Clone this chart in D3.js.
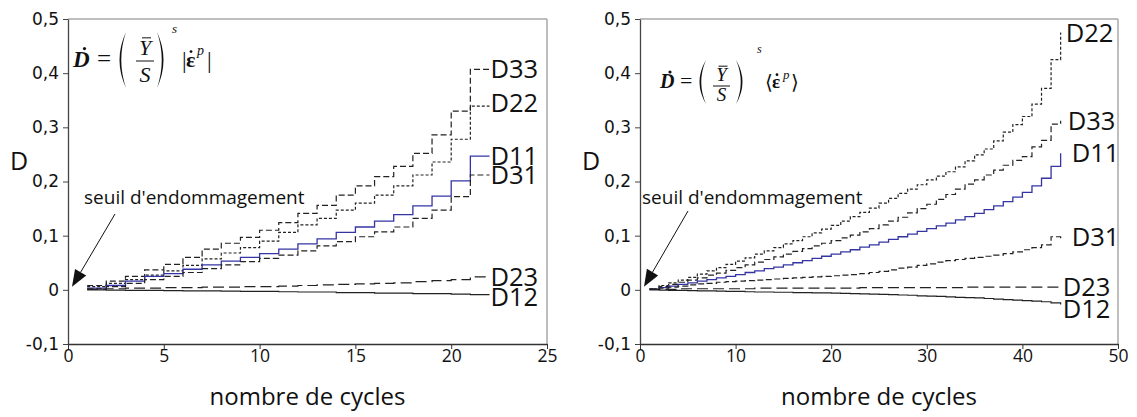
<!DOCTYPE html>
<html><head><meta charset="utf-8">
<script src="https://cdn.jsdelivr.net/npm/d3@7"></script>
<style>body{margin:0;background:#fff}svg{display:block}</style>
</head><body>
<svg id="chart" width="1137" height="417"></svg>
<script>
// ---------- DATA ----------
const yTicks = [-0.1, 0, 0.1, 0.2, 0.3, 0.4, 0.5];
const xTicksLeft = [0, 5, 10, 15, 20, 25];
const xTicksRight = [0, 10, 20, 30, 40, 50];

const cyclesLeft = d3.range(1, 23);   // 1..22
const left_D33 = [0.008,0.016,0.025,0.037,0.047,0.060,0.075,0.086,0.097,0.110,0.124,0.141,0.156,0.175,0.192,0.209,0.228,0.252,0.286,0.330,0.407,0.407];
const left_D22 = [0.006,0.012,0.019,0.027,0.035,0.045,0.057,0.068,0.078,0.090,0.106,0.120,0.132,0.147,0.160,0.175,0.192,0.212,0.236,0.278,0.339,0.339];
const left_D11 = [0.003,0.008,0.016,0.025,0.030,0.038,0.046,0.053,0.060,0.067,0.075,0.085,0.094,0.106,0.116,0.127,0.139,0.155,0.173,0.201,0.247,0.247];
const left_D31 = [0.002,0.006,0.012,0.019,0.025,0.032,0.039,0.046,0.052,0.058,0.064,0.072,0.081,0.089,0.098,0.107,0.116,0.132,0.147,0.172,0.212,0.212];
const left_D23 = [0.001,0.002,0.003,0.003,0.004,0.004,0.005,0.005,0.006,0.006,0.007,0.008,0.009,0.010,0.011,0.012,0.013,0.015,0.017,0.019,0.024,0.024];
const left_D12 = [0,-0.0005,-0.001,-0.001,-0.0015,-0.002,-0.002,-0.0025,-0.003,-0.003,-0.0035,-0.004,-0.004,-0.005,-0.005,-0.006,-0.006,-0.007,-0.007,-0.008,-0.009,-0.009];

const cyclesRight = d3.range(1, 45);  // 1..44
const right_D22 = [0.002,0.008,0.013,0.018,0.023,0.029,0.035,0.041,0.047,0.053,0.059,0.066,0.072,0.078,0.085,0.091,0.098,0.105,0.112,0.119,0.127,0.135,0.143,0.151,0.160,0.169,0.178,0.186,0.194,0.203,0.210,0.218,0.227,0.238,0.249,0.260,0.275,0.291,0.305,0.320,0.343,0.372,0.425,0.475];
const right_D33 = [0.002,0.006,0.010,0.014,0.018,0.022,0.027,0.031,0.036,0.041,0.046,0.051,0.056,0.061,0.066,0.071,0.076,0.081,0.086,0.091,0.096,0.101,0.107,0.113,0.120,0.127,0.134,0.142,0.150,0.158,0.167,0.176,0.186,0.195,0.203,0.212,0.221,0.230,0.239,0.246,0.264,0.276,0.306,0.312];
const right_D11 = [0.001,0.004,0.007,0.010,0.013,0.016,0.019,0.022,0.025,0.028,0.032,0.035,0.039,0.042,0.046,0.050,0.054,0.058,0.062,0.066,0.070,0.074,0.079,0.083,0.088,0.093,0.098,0.103,0.108,0.113,0.118,0.123,0.129,0.135,0.141,0.148,0.155,0.163,0.171,0.180,0.192,0.206,0.228,0.252];
const right_D31 = [0.001,0.003,0.005,0.007,0.009,0.011,0.012,0.014,0.015,0.016,0.017,0.018,0.019,0.020,0.021,0.022,0.023,0.024,0.025,0.026,0.027,0.028,0.030,0.032,0.034,0.037,0.040,0.042,0.045,0.048,0.051,0.054,0.056,0.058,0.060,0.062,0.064,0.067,0.070,0.074,0.078,0.083,0.098,0.090];
const right_D23 = [0.001,0.001,0.001,0.002,0.002,0.002,0.002,0.002,0.002,0.002,0.002,0.003,0.003,0.003,0.003,0.003,0.003,0.003,0.003,0.003,0.003,0.003,0.004,0.004,0.004,0.004,0.004,0.004,0.004,0.004,0.004,0.004,0.004,0.005,0.005,0.005,0.005,0.005,0.005,0.005,0.005,0.005,0.005,0.006];
const right_D12 = [0,-0.0005,-0.001,-0.001,-0.0015,-0.002,-0.002,-0.0025,-0.003,-0.003,-0.0035,-0.004,-0.004,-0.0045,-0.0045,-0.005,-0.005,-0.0055,-0.0055,-0.006,-0.0065,-0.007,-0.0075,-0.008,-0.0085,-0.009,-0.0095,-0.010,-0.011,-0.0115,-0.012,-0.013,-0.014,-0.0145,-0.015,-0.016,-0.017,-0.018,-0.019,-0.020,-0.021,-0.022,-0.024,-0.027];

const xTitle = "nombre de cycles";
const yTitle = "D";
const annotation = "seuil d'endommagement";

// ---------- STYLES ----------
const styleOf = {
  D33: {color:"#222", dash:"6,3", w:1.2},
  D22: {color:"#222", dash:"3,2", w:1.2},
  D11: {color:"#3434a4", dash:null, w:1.3},
  D31: {color:"#222", dash:"6,3", w:1.2},
  D23: {color:"#222", dash:"11,5", w:1.2},
  D12: {color:"#222", dash:null, w:1.2}
};

const svg = d3.select("#chart");
const fmt = v => Math.abs(v) < 1e-9 ? "0" : d3.format(".1f")(v).replace(".", ",").replace("−","-");

function panel(opts) {
  const x = d3.scaleLinear().domain(opts.xDomain).range(opts.xRange);
  const y = d3.scaleLinear().domain([-0.1, 0.5]).range([344, 19]);
  const g = svg.append("g");

  g.append("line").attr("x1", x.range()[0]).attr("x2", x.range()[1]).attr("y1", y(0.5)).attr("y2", y(0.5))
    .attr("stroke", "#a8a8a8").attr("stroke-width", 1.5);
  g.append("line").attr("x1", x.range()[1]).attr("x2", x.range()[1]).attr("y1", y(0.5)).attr("y2", y(-0.1))
    .attr("stroke", "#a8a8a8").attr("stroke-width", 1.5);

  const ya = g.append("g").attr("transform", `translate(${x.range()[0]},0)`)
    .call(d3.axisLeft(y).tickValues(yTicks).tickSize(5).tickSizeOuter(0).tickPadding(4).tickFormat(fmt));
  ya.select(".domain").attr("stroke", "#444").attr("stroke-width", 1.3);
  ya.selectAll(".tick line").attr("stroke", "#444");
  ya.selectAll("text").attr("font-family", "DejaVu Sans").attr("font-size", 17).attr("fill", "#111");

  const xa = g.append("g").attr("transform", `translate(0,${y(-0.1)})`)
    .call(d3.axisBottom(x).tickValues(opts.xTicks).tickSize(5).tickSizeOuter(0).tickPadding(1));
  xa.select(".domain").attr("stroke", "#333").attr("stroke-width", 1.3);
  xa.selectAll(".tick line").attr("stroke", "#333");
  xa.selectAll("text").attr("font-family", "Open Sans").attr("font-size", 17.5).attr("fill", "#111");

  g.append("text").attr("x", d3.mean(x.range())).attr("y", 405).attr("text-anchor", "middle")
    .attr("font-family", "Open Sans").attr("font-size", 24).attr("fill", "#111").text(xTitle);
  g.append("text").attr("x", x.range()[0] - 58).attr("y", 170)
    .attr("font-family", "Open Sans").attr("font-size", 25).attr("fill", "#111").text(yTitle);

  const line = d3.line().x(d => x(d[0])).y(d => y(d[1])).curve(d3.curveStepAfter);
  opts.series.forEach((s, i) => {
    const st = styleOf[s.name];
    const pts = opts.cycles.map((c, k) => [c, s.values[k]]);
    g.append("path").attr("d", line(pts)).attr("fill", "none")
      .attr("stroke", st.color).attr("stroke-width", st.w)
      .attr("stroke-dasharray", st.dash);
    const last = pts[pts.length - 1];
    g.append("text").attr("x", x(last[0]) + opts.labelDx[i]).attr("y", y(last[1]) + 9 + opts.labelDy[i])
      .attr("font-family", "Open Sans").attr("font-size", 25.5).attr("fill", "#111").text(s.name);
  });

  g.append("text").attr("x", opts.ann.tx).attr("y", 204).attr("font-family", "Open Sans")
    .attr("font-size", 19).attr("fill", "#111").text(annotation);
  const x0 = opts.ann.x1, y0 = opts.ann.y1, tx = x(0) + 4, ty = y(0) - 3;
  const ang = Math.atan2(ty - y0, tx - x0), L = 17, W = 6.5;
  const bx = tx - L * Math.cos(ang), by = ty - L * Math.sin(ang);
  g.append("line").attr("x1", x0).attr("y1", y0).attr("x2", bx).attr("y2", by).attr("stroke", "#111").attr("stroke-width", 1);
  g.append("path").attr("d", `M${tx},${ty}L${bx + W*Math.sin(ang)},${by - W*Math.cos(ang)}L${bx - W*Math.sin(ang)},${by + W*Math.cos(ang)}Z`).attr("fill", "#111");
  return g;
}

panel({
  xDomain: [0, 25], xRange: [68, 547], xTicks: xTicksLeft, cycles: cyclesLeft,
  series: [{name:"D33", values:left_D33},{name:"D22", values:left_D22},{name:"D11", values:left_D11},
           {name:"D31", values:left_D31},{name:"D23", values:left_D23},{name:"D12", values:left_D12}],
  labelDx: [1, 1, 1, 1, 1, 1], labelDy: [0, -3, 0, 0, 0, 2],
  ann: {tx: 84, x1: 115, y1: 214}
});
panel({
  xDomain: [0, 50], xRange: [640, 1118], xTicks: xTicksRight, cycles: cyclesRight,
  series: [{name:"D22", values:right_D22},{name:"D33", values:right_D33},{name:"D11", values:right_D11},
           {name:"D31", values:right_D31},{name:"D23", values:right_D23},{name:"D12", values:right_D12}],
  labelDx: [5, 7, 11, 11, 2, 2], labelDy: [0, 0, 0, -4, 0, 5],
  ann: {tx: 642, x1: 688, y1: 211}
});

// ---------- FORMULAS ----------
function formula(c) {
  const g = svg.append("g").attr("transform", `translate(${c.x0},${c.yb})`);
  const serif = "Liberation Serif, DejaVu Serif, serif";
  const T = (x, y, s, size, style, weight) => g.append("text").attr("x", x).attr("y", y).text(s)
    .attr("font-family", serif).attr("font-size", size).attr("font-style", style || "normal")
    .attr("font-weight", weight || "normal").attr("fill", "#111");
  T(0, 0, "D", c.fD, "italic", "bold");
  g.append("circle").attr("cx", c.fD * 0.5).attr("cy", -c.fD * 0.8).attr("r", 1.6).attr("fill", "#111");
  T(c.eq, 0, "=", c.fD + 2);
  const pt = c.pTop, pb = c.pBot, pm = (pt + pb) / 2;
  g.append("path").attr("d", `M${c.lp + 9},${pt} Q${c.lp - 4},${pm} ${c.lp + 9},${pb} Q${c.lp - 0.5},${pm} ${c.lp + 9},${pt}Z`).attr("fill", "#111");
  g.append("path").attr("d", `M${c.rp},${pt} Q${c.rp + 13},${pm} ${c.rp},${pb} Q${c.rp + 9.5},${pm} ${c.rp},${pt}Z`).attr("fill", "#111");
  T(c.fr + c.fw / 2, c.yB, "Y", c.fF, "italic").attr("text-anchor", "middle");
  g.append("line").attr("x1", c.fr + c.fw / 2 - 3).attr("x2", c.fr + c.fw / 2 + 6).attr("y1", c.yB - c.fF * 0.78).attr("y2", c.yB - c.fF * 0.78).attr("stroke", "#111").attr("stroke-width", 1);
  g.append("line").attr("x1", c.fr).attr("x2", c.fr + c.fw).attr("y1", c.bar).attr("y2", c.bar).attr("stroke", "#111").attr("stroke-width", 1);
  T(c.fr + c.fw / 2, c.sB, "S", c.fF, "italic").attr("text-anchor", "middle");
  T(c.sup, c.supB, "s", c.fS, "italic");
  T(c.ob, 1, c.open, c.fD);
  T(c.eps, 0, "ε", c.fF, "normal", "bold");
  g.append("circle").attr("cx", c.eps + 5).attr("cy", -c.fF * 0.7).attr("r", 1.4).attr("fill", "#111");
  T(c.p, c.pB, "p", c.fS + 1, "italic");
  T(c.cb, 1, c.close, c.fD);
}
formula({x0:73, yb:67, fD:23, fF:22, fS:13, eq:24, lp:44, rp:84, fr:63, fw:18, pTop:-35, pBot:21,
         yB:-12, bar:-6, sB:15, sup:99, supB:-34, ob:109, open:"|", eps:113, p:124, pB:-12, cb:134, close:"|"});
formula({x0:660, yb:88, fD:20, fF:19, fS:12, eq:20, lp:37, rp:76, fr:53, fw:17, pTop:-28, pBot:16,
         yB:-7, bar:-2, sB:13, sup:97, supB:-35, ob:105, open:"⟨", eps:112, p:123, pB:-9, cb:131, close:"⟩"});
</script>
</body></html>
